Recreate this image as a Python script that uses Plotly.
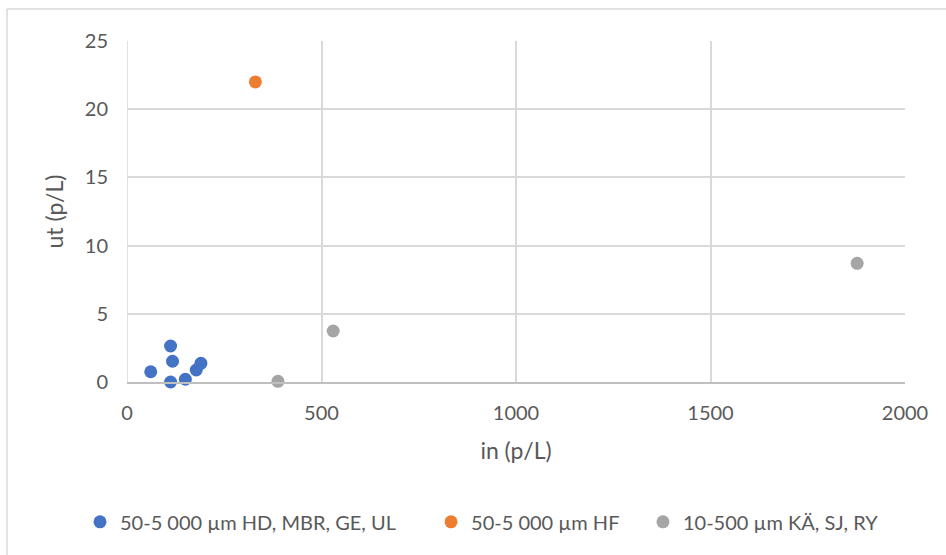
import plotly.graph_objects as go

# Series: inflow (in) vs outflow (ut) concentrations, particles per litre
blue_name = "50-5 000 µm HD, MBR, GE, UL"
blue_in = [61, 112, 117, 112, 150, 178, 190]
blue_ut = [0.75, 2.64, 1.52, 0.0, 0.2, 0.88, 1.37]

orange_name = "50-5 000 µm HF"
orange_in = [330]
orange_ut = [22.0]

gray_name = "10-500 µm KÄ, SJ, RY"
gray_in = [388, 530, 1877]
gray_ut = [0.05, 3.74, 8.7]

x_ticks = [0, 500, 1000, 1500, 2000]
y_ticks = [0, 5, 10, 15, 20, 25]

FONT = "Lato, Carlito, Calibri, sans-serif"
TXT = "#595959"
GRID = "#d9d9d9"

series = [
    (blue_name, blue_in, blue_ut, "#4472c4", "legend", -0.0604),
    (orange_name, orange_in, orange_ut, "#ed7d31", "legend2", 0.3908),
    (gray_name, gray_in, gray_ut, "#a5a5a5", "legend3", 0.6632),
]

fig = go.Figure()
legends = {}
for name, xs, ys, col, leg, lx in series:
    fig.add_trace(go.Scatter(
        x=xs, y=ys, mode="markers", name=name, legend=leg,
        marker=dict(size=13, color=col, line=dict(width=0)),
        cliponaxis=False,
    ))
    legends[leg] = dict(
        orientation="h", x=lx, xanchor="left", y=-0.41, yanchor="middle",
        font=dict(family=FONT, size=20, color=TXT),
        itemwidth=30, bgcolor="rgba(0,0,0,0)",
    )

fig.update_layout(
    width=946, height=555,
    margin=dict(l=127, r=41, t=41, b=173),
    paper_bgcolor="white", plot_bgcolor="white",
    font=dict(family=FONT, size=20, color=TXT),
    showlegend=True,
    **legends,
    xaxis=dict(
        range=[0, 2000], tickvals=x_ticks, showgrid=True, gridcolor=GRID, gridwidth=1.5,
        zeroline=False, showline=True, linecolor="#bfbfbf", linewidth=1.5,
        ticks="", ticklabelstandoff=12, tickfont=dict(size=20),
        title=dict(text="in (p/L)", font=dict(size=23, color=TXT), standoff=20),
    ),
    yaxis=dict(
        range=[0, 25], tickvals=y_ticks, showgrid=True, gridcolor=GRID, gridwidth=1.5,
        zeroline=False, showline=False,
        ticks="", ticklabelstandoff=18, tickfont=dict(size=20),
        title=dict(text="ut (p/L)", font=dict(size=23, color=TXT), standoff=14),
    ),
    shapes=[
        # chart frame: top and left edges
        dict(type="line", xref="paper", yref="paper", x0=-0.1542, x1=1.06, y0=1.0938, y1=1.0938,
             line=dict(color=GRID, width=1.5)),
        dict(type="line", xref="paper", yref="paper", x0=-0.1542, x1=-0.1542, y0=1.0938, y1=-0.6,
             line=dict(color=GRID, width=1.5)),
        # vertical gridline at x=0
        dict(type="line", xref="x", yref="paper", x0=0, x1=0, y0=0, y1=1,
             line=dict(color=GRID, width=1.5), layer="below"),
    ],
)

fig.write_html("out.html")
